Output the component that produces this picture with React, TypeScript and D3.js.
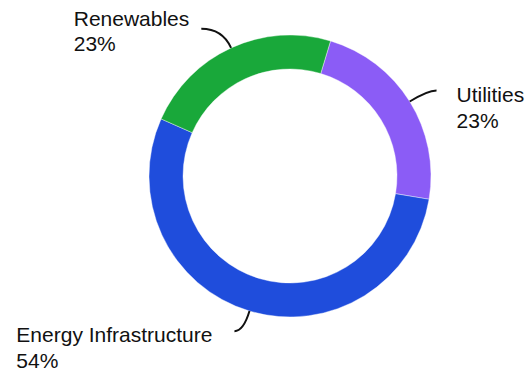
import React from "react";
import * as d3 from "d3";

const categories = ["Utilities", "Energy Infrastructure", "Renewables"];
const values = [23, 54, 23];
const colors = ["#8b5cf6", "#1f4ddc", "#19a83a"];
// per-label layout: horizontal extent of leader tail, gap between leader end and text block, baseline offset
const leaderTail = [9, -9, -21];
const textGap = [20, 22, 12];
const textDy = [12, 11, -3];

const W = 529;
const H = 372;
const cx = 290;
const cy = 176;
const outerR = 141;
const innerR = 107;
const startDeg = 16.7;
const FONT_SIZE = 21;
const FONT = "'Liberation Sans', Arial, sans-serif";

function measure(t: string): number {
  const c = document.createElement("canvas").getContext("2d");
  if (!c) return t.length * FONT_SIZE * 0.5;
  c.font = `${FONT_SIZE}px ${FONT}`;
  return c.measureText(t).width;
}

export default function App() {
  const data = categories.map((c, i) => ({ name: c, value: values[i], i }));
  const total = d3.sum(values);
  const start = (startDeg * Math.PI) / 180;
  const pie = d3
    .pie<any>()
    .sort(null)
    .value((d) => d.value)
    .startAngle(start)
    .endAngle(start + 2 * Math.PI);
  const arcs = pie(data);
  const arc = d3.arc<any>().innerRadius(innerR).outerRadius(outerR);
  const fmt = d3.format(".0%");

  return (
    <svg
      width={W}
      height={H}
      style={{ position: "absolute", left: 0, top: 0, background: "#fff" }}
      fontFamily={FONT}
    >
      <g transform={`translate(${cx},${cy})`}>
        {arcs.map((a, k) => (
          <path key={k} d={arc(a) as string} fill={colors[k]} stroke="#fff" strokeWidth={0.4} />
        ))}
      </g>
      {arcs.map((a, k) => {
        const mid = (a.startAngle + a.endAngle) / 2;
        const sx = Math.sin(mid);
        const sy = -Math.cos(mid);
        const p0 = [cx + outerR * sx, cy + outerR * sy];
        const r2 = outerR + 21;
        const p1 = [cx + r2 * sx, cy + r2 * sy];
        const p2 = [p1[0] + leaderTail[k], p1[1]];
        const path = d3.path();
        path.moveTo(p0[0], p0[1]);
        path.quadraticCurveTo(p1[0], p1[1], p2[0], p2[1]);
        const right = leaderTail[k] > 0;
        const line1 = a.data.name;
        const line2 = fmt(a.data.value / total);
        const blockW = Math.max(measure(line1), measure(line2));
        const tx = right ? p2[0] + textGap[k] : p2[0] - textGap[k] - blockW;
        const ty = p2[1] + textDy[k];
        return (
          <g key={k}>
            <path d={path.toString()} fill="none" stroke="#111" strokeWidth={2} />
            <text x={tx} y={ty} fontSize={FONT_SIZE} fill="#111">
              <tspan x={tx}>{line1}</tspan>
              <tspan x={tx} dy={25.5}>
                {line2}
              </tspan>
            </text>
          </g>
        );
      })}
    </svg>
  );
}
